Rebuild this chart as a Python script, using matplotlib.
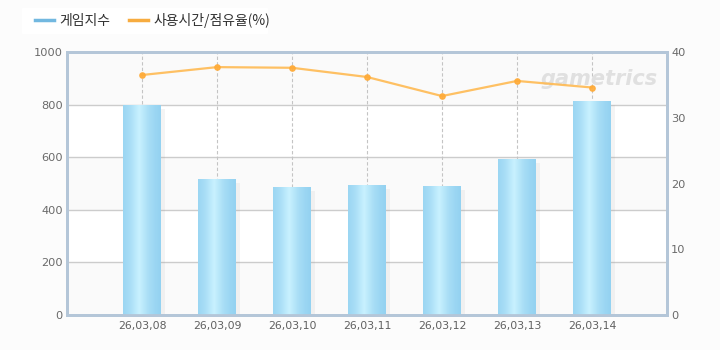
import matplotlib

matplotlib.use("Agg")
import matplotlib.pyplot as plt
import numpy as np

# --- Data ---
dates = ["26,03,08", "26,03,09", "26,03,10", "26,03,11", "26,03,12", "26,03,13", "26,03,14"]
game_index = [797, 517, 487, 494, 490, 593, 814]
share_pct = [36.5, 37.7, 37.6, 36.2, 33.3, 35.6, 34.6]
left_ticks = [0, 200, 400, 600, 800, 1000]
right_ticks = [0, 10, 20, 30, 40]

plt.rcParams["font.family"] = ["Noto Sans CJK KR", "DejaVu Sans"]

fig = plt.figure(figsize=(7.2, 3.5), dpi=100, facecolor="#fcfcfc")
ax = fig.add_axes([67 / 720, 1 - 315 / 350, 600 / 720, 263 / 350])
ax.set_facecolor("white")
ax2 = ax.twinx()

x = np.arange(len(dates))

# alternating bands + grid
for lo in left_ticks[:-1:2]:
    ax.axhspan(lo, lo + 200, color="#fafafa", zorder=0, lw=0)
for t in left_ticks[1:-1]:
    ax.axhline(t, color="#cccccc", lw=1, zorder=1)
for xi in x:
    ax.axvline(xi, color="#c4c4c4", lw=0.8, ls=(0, (3, 2)), zorder=1)

# bars with soft shadow and horizontal gradient
bw = 0.5
ax.bar(x + 0.06, np.array(game_index) - 15, width=bw, color="#999999",
       alpha=0.10, zorder=2, lw=0)
bars = ax.bar(x, game_index, width=bw, color="#a8dcf4", zorder=3, lw=0)
grad = np.array([0.0, 0.3, 0.65, 1.0, 0.65, 0.3, 0.0, -0.2])
cmap = matplotlib.colors.LinearSegmentedColormap.from_list(
    "bar", ["#94d2f1", "#a9def6", "#c8f1ff"])
for b in bars:
    x0, w, h = b.get_x(), b.get_width(), b.get_height()
    row = np.interp(np.linspace(0, 1, 64), np.linspace(0, 1, len(grad)), grad)[None, :]
    im = ax.imshow(row, cmap=cmap, vmin=-0.2, vmax=1.0, aspect="auto",
                   extent=(x0, x0 + w, 0, h), zorder=3.5, interpolation="bilinear")
    im.set_clip_path(b)
ax.set_xlim(-1, 7)
ax.set_ylim(0, 1000)
ax2.set_ylim(0, 40)

# line on secondary axis
ax2.plot(x, share_pct, color="#ffba52", lw=1.6, alpha=0.9,
         marker="o", ms=3.8, mfc="#ffab38", mec="#ffab38", zorder=5)

# ticks
ax.set_xticks(x)
ax.set_xticklabels(dates, fontsize=7.8, color="#606060", family="DejaVu Sans")
ax.set_yticks(left_ticks)
ax.set_yticklabels([str(t) for t in left_ticks], fontsize=8.2, color="#6a6a6a", family="DejaVu Sans")
ax2.set_yticks(right_ticks)
ax2.set_yticklabels([str(t) for t in right_ticks], fontsize=8.2, color="#6a6a6a", family="DejaVu Sans")
ax.tick_params(axis="both", length=0, pad=3)
ax2.tick_params(axis="y", length=0, pad=3)
ax.tick_params(axis="x", pad=4)

for a in (ax, ax2):
    for s in a.spines.values():
        s.set_color("#b4c6d8")
        s.set_linewidth(2)

# watermark
ax.text(0.985, 0.935, "gametrics", transform=ax.transAxes, ha="right", va="top",
        fontsize=15, style="italic", fontweight="bold", color="#e0e0e0",
        family="DejaVu Sans", zorder=1.5)

# legend
fig.patches.append(plt.Rectangle((22 / 720, 1 - 33 / 350), 245 / 720, 25 / 350,
                                 transform=fig.transFigure, color="white", zorder=0))
leg_h1 = matplotlib.lines.Line2D([], [], color="#72b8e0", lw=2.5)
leg_h2 = matplotlib.lines.Line2D([], [], color="#f7ac40", lw=2.5)
fig.legend([leg_h1, leg_h2], ["게임지수", "사용시간/점유율(%)"], loc="center left",
           bbox_to_anchor=(22 / 720, 1 - 20 / 350), ncol=2, frameon=False,
           fontsize=10, handlelength=1.4, handletextpad=0.4, columnspacing=1.3,
           labelcolor="#333333")

fig.savefig("out.png", dpi=100, facecolor=fig.get_facecolor())
